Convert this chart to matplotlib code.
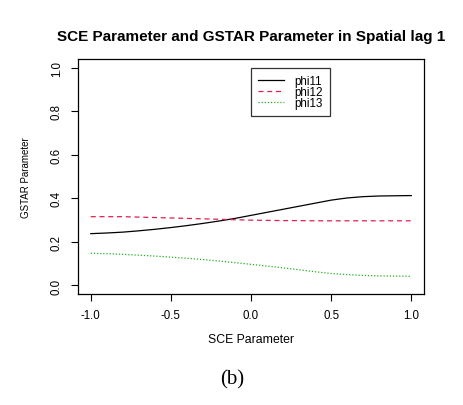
import matplotlib.pyplot as plt

sce = [-1.0, -0.9, -0.8, -0.7, -0.6, -0.5, -0.4, -0.3, -0.2, -0.1, 0.0,
       0.1, 0.2, 0.3, 0.4, 0.5, 0.6, 0.7, 0.8, 0.9, 1.0]
phi11 = [0.238, 0.241, 0.245, 0.251, 0.258, 0.266, 0.275, 0.285, 0.296, 0.308, 0.322,
         0.336, 0.350, 0.364, 0.378, 0.392, 0.402, 0.408, 0.411, 0.412, 0.413]
phi12 = [0.316, 0.316, 0.316, 0.314, 0.312, 0.310, 0.308, 0.306, 0.304, 0.302, 0.300,
         0.299, 0.298, 0.298, 0.297, 0.297, 0.297, 0.297, 0.297, 0.297, 0.297]
phi13 = [0.148, 0.146, 0.143, 0.139, 0.135, 0.130, 0.125, 0.119, 0.112, 0.105, 0.097,
         0.089, 0.081, 0.072, 0.063, 0.055, 0.050, 0.046, 0.044, 0.043, 0.042]
xticks = [-1.0, -0.5, 0.0, 0.5, 1.0]
yticks = [0.0, 0.2, 0.4, 0.6, 0.8, 1.0]

plt.rcParams['font.family'] = ['Liberation Sans', 'DejaVu Sans']

fig = plt.figure(figsize=(4.64, 4.06), dpi=100)
ax = fig.add_axes([0.168, 0.273, 0.746, 0.579])

ax.plot(sce, phi11, color="black", lw=0.9, label="phi11")
ax.plot(sce, phi12, color="#e0204a", lw=0.9, ls=(0, (4, 3)), label="phi12")
ax.plot(sce, phi13, color="#22b022", lw=0.9, ls=(0, (1, 1.5)), label="phi13")

ax.set_xlim(-1.08, 1.08)
ax.set_ylim(-0.04, 1.04)
ax.set_xticks(xticks)
ax.set_xticklabels(["%.1f" % v for v in xticks])
ax.set_yticks(yticks)
ax.set_yticklabels(["%.1f" % v for v in yticks], rotation=90, va="center")
ax.tick_params(labelsize=8.3, length=5, width=0.8, pad=6)
for s in ax.spines.values():
    s.set_linewidth(0.9)

ax.set_title("SCE Parameter and GSTAR Parameter in Spatial lag 1",
             fontsize=11, fontweight="bold", pad=14)
ax.set_xlabel("SCE Parameter", fontsize=8.8, labelpad=8)
ax.set_ylabel("GSTAR Parameter", fontsize=7, labelpad=14)

leg = ax.legend(loc="upper left", bbox_to_anchor=(0.5, 0.962), fontsize=8.4,
                frameon=True, fancybox=False, edgecolor="black", borderpad=0.6,
                borderaxespad=0, handlelength=2.2, labelspacing=-0.1,
                handletextpad=0.9)
leg.get_frame().set_linewidth(0.9)

fig.text(0.5, 0.064, "(b)", ha="center", va="center", fontsize=15,
         family="Liberation Serif")

fig.savefig("out.png", dpi=100)
